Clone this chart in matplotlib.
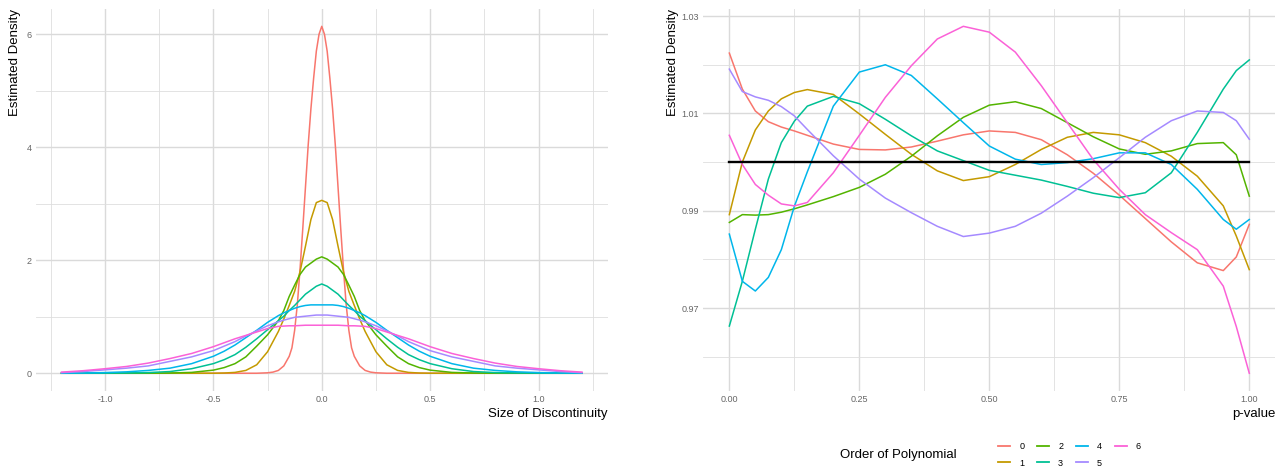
import numpy as np
import matplotlib
matplotlib.use("Agg")
import matplotlib.pyplot as plt
from matplotlib.lines import Line2D

plt.rcParams['font.family'] = ['Liberation Sans', 'DejaVu Sans']

# Order of the polynomial for each fitted curve
orders = ['0', '1', '2', '3', '4', '5', '6']
colors = ['#F8766D', '#C49A00', '#53B400', '#00C094', '#00B6EB', '#A58AFF', '#FB61D7']

# Left panel: density of discontinuity sizes (symmetric, given for x >= 0)
# order 0 is very peaked, so it gets a finer grid of its own
disc_x0 = [0, 0.0125, 0.025, 0.0375, 0.05, 0.0625, 0.075, 0.0875, 0.1, 0.1125,
           0.125, 0.1375, 0.15, 0.175, 0.2, 0.225, 0.25, 0.3, 1.2]
disc_0 = [6.14, 6.00, 5.70, 5.22, 4.68, 4.04, 3.30, 2.56, 1.85, 1.22,
          0.76, 0.45, 0.30, 0.13, 0.05, 0.02, 0.008, 0, 0]

disc_x = [0, 0.025, 0.05, 0.075, 0.1, 0.125, 0.15, 0.175, 0.2, 0.25, 0.3,
          0.35, 0.4, 0.45, 0.5, 0.6, 0.7, 0.8, 0.9, 1.0, 1.1, 1.2]
disc_1 = [3.06, 3.02, 2.72, 2.25, 1.80, 1.45, 1.20, 0.96, 0.74, 0.38, 0.15,
          0.05, 0.015, 0.004, 0, 0, 0, 0, 0, 0, 0, 0]
disc_2 = [2.06, 2.02, 1.95, 1.88, 1.75, 1.56, 1.36, 1.11, 0.93, 0.68, 0.48,
          0.29, 0.17, 0.10, 0.055, 0.015, 0.004, 0, 0, 0, 0, 0]
disc_3 = [1.58, 1.54, 1.47, 1.40, 1.30, 1.20, 1.11, 1.01, 0.93, 0.77, 0.61,
          0.46, 0.33, 0.24, 0.17, 0.08, 0.03, 0.012, 0.005, 0.002, 0, 0]
disc_4 = [1.21, 1.21, 1.21, 1.20, 1.18, 1.15, 1.11, 1.07, 1.02, 0.90, 0.76,
          0.63, 0.50, 0.39, 0.30, 0.17, 0.09, 0.05, 0.025, 0.012, 0.005, 0.002]
disc_5 = [1.03, 1.03, 1.02, 1.01, 1.00, 0.99, 0.965, 0.94, 0.91, 0.84, 0.75,
          0.66, 0.56, 0.48, 0.40, 0.29, 0.21, 0.13, 0.09, 0.06, 0.03, 0.01]
disc_6 = [0.85, 0.85, 0.85, 0.85, 0.845, 0.84, 0.84, 0.835, 0.83, 0.79, 0.73,
          0.67, 0.61, 0.54, 0.47, 0.35, 0.26, 0.18, 0.12, 0.08, 0.045, 0.02]

# Right panel: density of p-values
p_x = [0, 0.025, 0.05, 0.075, 0.1, 0.125, 0.15, 0.2, 0.25, 0.3, 0.35, 0.4, 0.45,
       0.5, 0.55, 0.6, 0.65, 0.7, 0.75, 0.8, 0.85, 0.9, 0.95, 0.975, 1.0]
p_0 = [1.0224, 1.0150, 1.0105, 1.0083, 1.0072, 1.0064, 1.0055, 1.0037, 1.0026,
       1.0025, 1.0031, 1.0043, 1.0056, 1.0064, 1.0061, 1.0046, 1.0015, 0.9977,
       0.9932, 0.9884, 0.9836, 0.9793, 0.9777, 0.9805, 0.9872]
p_1 = [0.9892, 1.0000, 1.0066, 1.0105, 1.0130, 1.0143, 1.0149, 1.0139, 1.0099,
       1.0057, 1.0016, 0.9982, 0.9962, 0.9970, 0.9995, 1.0026, 1.0051, 1.0061,
       1.0056, 1.0040, 1.0012, 0.9971, 0.9910, 0.9848, 0.9779]
p_2 = [0.9876, 0.9892, 0.9891, 0.9892, 0.9897, 0.9904, 0.9912, 0.9929, 0.9948,
       0.9975, 1.0012, 1.0054, 1.0092, 1.0117, 1.0124, 1.0110, 1.0081, 1.0052,
       1.0027, 1.0016, 1.0023, 1.0038, 1.0040, 1.0015, 0.9930]
p_3 = [0.9663, 0.9755, 0.9862, 0.9965, 1.0040, 1.0084, 1.0115, 1.0135, 1.0120,
       1.0088, 1.0054, 1.0023, 1.0003, 0.9983, 0.9973, 0.9963, 0.9950, 0.9936,
       0.9927, 0.9937, 0.9978, 1.0061, 1.0150, 1.0188, 1.0210]
p_4 = [0.9852, 0.9755, 0.9735, 0.9763, 0.9820, 0.9909, 0.9980, 1.0115, 1.0185,
       1.0200, 1.0178, 1.0130, 1.0081, 1.0033, 1.0006, 0.9995, 0.9999, 1.0007,
       1.0019, 1.0019, 0.9995, 0.9944, 0.9882, 0.9862, 0.9882]
p_5 = [1.0191, 1.0145, 1.0134, 1.0127, 1.0114, 1.0095, 1.0067, 1.0013, 0.9965,
       0.9926, 0.9896, 0.9868, 0.9847, 0.9854, 0.9868, 0.9895, 0.9930, 0.9968,
       1.0009, 1.0051, 1.0085, 1.0105, 1.0102, 1.0085, 1.0047]
p_6 = [1.0055, 0.9995, 0.9954, 0.9932, 0.9914, 0.9910, 0.9917, 0.9978, 1.0055,
       1.0133, 1.0198, 1.0253, 1.0279, 1.0267, 1.0226, 1.0157, 1.0081, 1.0005,
       0.9944, 0.9892, 0.9855, 0.9820, 0.9745, 0.9662, 0.9566]
uniform_level = 1.0

disc_curves = [(disc_x0, disc_0), (disc_x, disc_1), (disc_x, disc_2), (disc_x, disc_3),
               (disc_x, disc_4), (disc_x, disc_5), (disc_x, disc_6)]
p_curves = [p_0, p_1, p_2, p_3, p_4, p_5, p_6]

fig = plt.figure(figsize=(12.87, 4.68), dpi=100)
ax1 = fig.add_axes([0.0276, 0.1654, 0.4448, 0.8154])
ax2 = fig.add_axes([0.5465, 0.1654, 0.4444, 0.8154])

# mirror the half-curves to get the full symmetric densities
for (xs, vals), col in zip(disc_curves, colors):
    hx = np.array(xs)
    v = np.array(vals)
    ax1.plot(np.concatenate([-hx[::-1], hx[1:]]), np.concatenate([v[::-1], v[1:]]),
             color=col, lw=1.1, solid_joinstyle='round')

for vals, col in zip(p_curves, colors):
    ax2.plot(p_x, vals, color=col, lw=1.1, solid_joinstyle='round')
ax2.plot([p_x[0], p_x[-1]], [uniform_level, uniform_level], color='black', lw=1.7)

tick_col = '#666666'
for ax in (ax1, ax2):
    for s in ax.spines.values():
        s.set_visible(False)
    ax.tick_params(which='both', length=0, labelsize=6.5, colors=tick_col, pad=3)
    ax.grid(which='major', color='#dadada', lw=1.0)
    ax.grid(which='minor', color='#dedede', lw=0.6)
    ax.set_axisbelow(True)

ax1.set_xticks([-1.0, -0.5, 0.0, 0.5, 1.0])
ax1.set_xticklabels(['-1.0', '-0.5', '0.0', '0.5', '1.0'])
ax1.set_xticks([-1.25, -0.75, -0.25, 0.25, 0.75, 1.25], minor=True)
ax1.set_yticks([0, 2, 4, 6])
ax1.set_yticklabels(['0', '2', '4', '6'])
ax1.set_yticks([1, 3, 5], minor=True)
ax1.set_xlim(-1.32, 1.32)

ax2.set_xticks([0, 0.25, 0.5, 0.75, 1.0])
ax2.set_xticklabels(['0.00', '0.25', '0.50', '0.75', '1.00'])
ax2.set_xticks([0.125, 0.375, 0.625, 0.875], minor=True)
ax2.set_yticks([0.97, 0.99, 1.01, 1.03])
ax2.set_yticklabels(['0.97', '0.99', '1.01', '1.03'])
ax2.set_yticks([0.96, 0.98, 1.00, 1.02], minor=True)

ax1.set_xlabel('Size of Discontinuity', loc='right', fontsize=9.5, labelpad=3)
ax1.set_ylabel('Estimated Density', loc='top', fontsize=9.5, labelpad=4)
ax2.set_xlabel('p-value', loc='right', fontsize=9.5, labelpad=3)
ax2.set_ylabel('Estimated Density', loc='top', fontsize=9.5, labelpad=2)

# legend along the bottom, title on the left
fig.text(840 / 1287, 1 - 455 / 468, 'Order of Polynomial', fontsize=9.5,
         ha='left', va='center')
handles = [Line2D([], [], color=c, lw=1.3) for c in colors]
fig.legend(handles, orders, loc='center left', ncol=4,
           bbox_to_anchor=(998 / 1287, 1 - 455 / 468), frameon=False,
           fontsize=6.5, borderpad=0, borderaxespad=0, handlelength=1.35,
           handletextpad=1.0, columnspacing=1.4, labelspacing=0.8)

fig.savefig('out.png', dpi=100, facecolor='white')
